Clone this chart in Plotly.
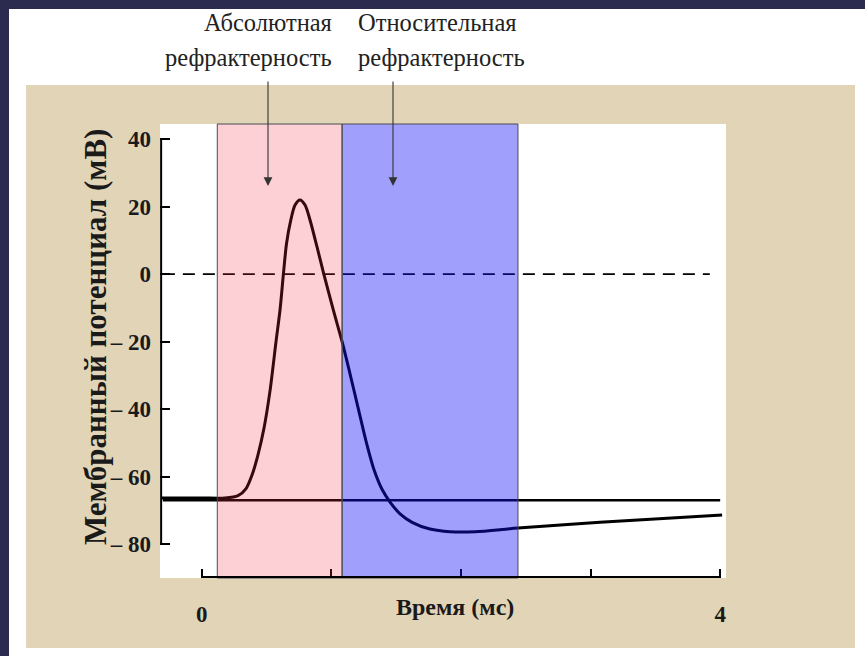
import plotly.graph_objects as go

# ---- data ----
time_ms = [-0.314, 0.000, 0.180, 0.280, 0.342, 0.388, 0.434, 0.481, 0.527, 0.573, 0.604, 0.630,
           0.654, 0.687, 0.720, 0.758, 0.797, 0.836, 0.890, 0.939, 1.015, 1.083, 1.144, 1.206,
           1.268, 1.330, 1.392, 1.453, 1.530, 1.623, 1.761, 1.916, 2.109, 2.441, 3.073, 4.015]
potential_mv = [-66.3, -66.3, -66.3, -65.6, -63.5, -59.5, -53.5, -45.5, -34.5, -20.0, -10.6, 0.0,
                9.0, 16.0, 20.5, 22.0, 20.5, 16.0, 8.0, 0.5, -10.6, -20.0, -29.5, -39.5,
                -49.5, -58.0, -63.8, -67.5, -71.0, -73.5, -75.5, -76.3, -76.3, -75.2, -73.5, -71.3]
resting_mv = -67.0
resting_span = [-0.30, 4.0]
zero_span = [-0.30, 3.92]
absolute_refractory = [0.12, 1.083]
relative_refractory = [1.083, 2.44]
x_tick_vals = [0, 1, 2, 3, 4]
x_tick_text = ["0", "", "", "", "4"]
y_tick_vals = [40, 20, 0, -20, -40, -60, -80]
y_tick_text = ["40", "20", "0", "– 20", "– 40", "– 60", "– 80"]
label_abs = ["Абсолютная", "рефрактерность"]
label_rel = ["Относительная", "рефрактерность"]
x_title = "Время (мс)"
y_title = "Мембранный потенциал (мВ)"

W, H = 865, 656
L, R, T, B = 160, 139, 124, 78
PW, PH = W - L - R, H - T - B


def px(x):
    return (x - L) / PW


def py(y):
    return (H - B - y) / PH


SERIF = "Liberation Serif, Times New Roman, serif"

fig = go.Figure()

# resting potential reference line
fig.add_trace(go.Scatter(x=resting_span, y=[resting_mv, resting_mv], mode="lines",
                         line=dict(color="black", width=2.5), hoverinfo="skip"))
# zero line (dashed)
fig.add_trace(go.Scatter(x=zero_span, y=[0, 0], mode="lines",
                         line=dict(color="black", width=1.8, dash="12px,8px"), hoverinfo="skip"))
# action potential
fig.add_trace(go.Scatter(x=time_ms, y=potential_mv, mode="lines", line_shape="spline",
                         line=dict(color="black", width=3, smoothing=0.8), hoverinfo="skip"))

shapes = []
# page decorations
shapes.append(dict(type="rect", xref="paper", yref="paper", x0=px(26), x1=px(855), y0=py(648), y1=py(85),
                   fillcolor="#e2d4b7", line_width=0, layer="below"))
shapes.append(dict(type="rect", xref="paper", yref="paper", x0=0, x1=1, y0=0, y1=1,
                   fillcolor="white", line_width=0, layer="below"))
shapes.append(dict(type="rect", xref="paper", yref="paper", x0=px(0), x1=px(W), y0=py(9), y1=py(0),
                   fillcolor="#2b2b50", line_width=0, layer="below"))
shapes.append(dict(type="rect", xref="paper", yref="paper", x0=px(0), x1=px(9), y0=py(H), y1=py(0),
                   fillcolor="#2b2b50", line_width=0, layer="below"))
# refractory periods (translucent, above the curve)
shapes.append(dict(type="rect", xref="x", yref="paper", x0=absolute_refractory[0], x1=absolute_refractory[1],
                   y0=0, y1=1, fillcolor="rgba(245,41,68,0.22)", line_width=0, layer="above"))
shapes.append(dict(type="rect", xref="x", yref="paper", x0=relative_refractory[0], x1=relative_refractory[1],
                   y0=0, y1=1, fillcolor="rgba(17,15,245,0.40)", line_width=0, layer="above"))
for span in (absolute_refractory, relative_refractory):
    shapes.append(dict(type="rect", xref="x", yref="paper", x0=span[0], x1=span[1], y0=0, y1=1,
                       fillcolor="rgba(0,0,0,0)", line=dict(color="#4a4a55", width=1), layer="above"))
# axis lines limited to the tick range
shapes.append(dict(type="line", xref="paper", yref="y", x0=0.002, x1=0.002,
                   y0=min(y_tick_vals), y1=max(y_tick_vals), line=dict(color="black", width=2)))
shapes.append(dict(type="line", xref="x", yref="paper", x0=min(x_tick_vals), x1=max(x_tick_vals),
                   y0=0.002, y1=0.002, line=dict(color="black", width=2)))

annotations = []
TOPFONT = dict(family=SERIF, size=24.5, color="#222")
annotations.append(dict(x=px(334), y=py(22), xref="paper", yref="paper", text=label_abs[0], showarrow=False,
                        xanchor="right", yanchor="middle", font=TOPFONT))
annotations.append(dict(x=px(334), y=py(57), xref="paper", yref="paper", text=label_abs[1], showarrow=False,
                        xanchor="right", yanchor="middle", font=TOPFONT))
annotations.append(dict(x=px(356), y=py(22), xref="paper", yref="paper", text=label_rel[0], showarrow=False,
                        xanchor="left", yanchor="middle", font=TOPFONT))
annotations.append(dict(x=px(356), y=py(57), xref="paper", yref="paper", text=label_rel[1], showarrow=False,
                        xanchor="left", yanchor="middle", font=TOPFONT))
# arrows
for ax_px in (268, 393):
    annotations.append(dict(x=px(ax_px), y=py(186), xref="paper", yref="paper", text="", showarrow=True,
                            ax=0, ay=-106, arrowhead=2, arrowsize=1.6, arrowwidth=1.1, arrowcolor="#333"))
# axis titles
annotations.append(dict(x=px(455), y=py(607), xref="paper", yref="paper", text=x_title, showarrow=False,
                        xanchor="center", yanchor="middle",
                        font=dict(family=SERIF, size=24, color="#1a1a1a", weight="bold")))
annotations.append(dict(x=px(95), y=py(337), xref="paper", yref="paper", text=y_title, showarrow=False,
                        textangle=-90, xanchor="center", yanchor="middle",
                        font=dict(family=SERIF, size=31, color="#1a1a1a", weight="bold")))

fig.update_layout(
    width=W, height=H, margin=dict(l=L, r=R, t=T, b=B),
    paper_bgcolor="white", plot_bgcolor="white", showlegend=False,
    shapes=shapes, annotations=annotations,
    xaxis=dict(range=[-0.322, 4.045], tickvals=x_tick_vals, ticktext=x_tick_text,
               ticks="inside", ticklen=9, tickwidth=2, tickcolor="black",
               showline=False, showgrid=False, zeroline=False, ticklabelstandoff=20,
               tickfont=dict(family=SERIF, size=23, color="#1a1a1a", weight="bold")),
    yaxis=dict(range=[-90, 44.5], tickvals=y_tick_vals, ticktext=y_tick_text,
               ticks="inside", ticklen=10, tickwidth=2, tickcolor="black",
               showline=False, showgrid=False, zeroline=False, ticklabelstandoff=8,
               tickfont=dict(family=SERIF, size=23, color="#1a1a1a", weight="bold")),
)

fig.write_html("out.html", config={"displayModeBar": False},
               post_script="document.body.style.margin='0';document.body.style.overflow='hidden';")
